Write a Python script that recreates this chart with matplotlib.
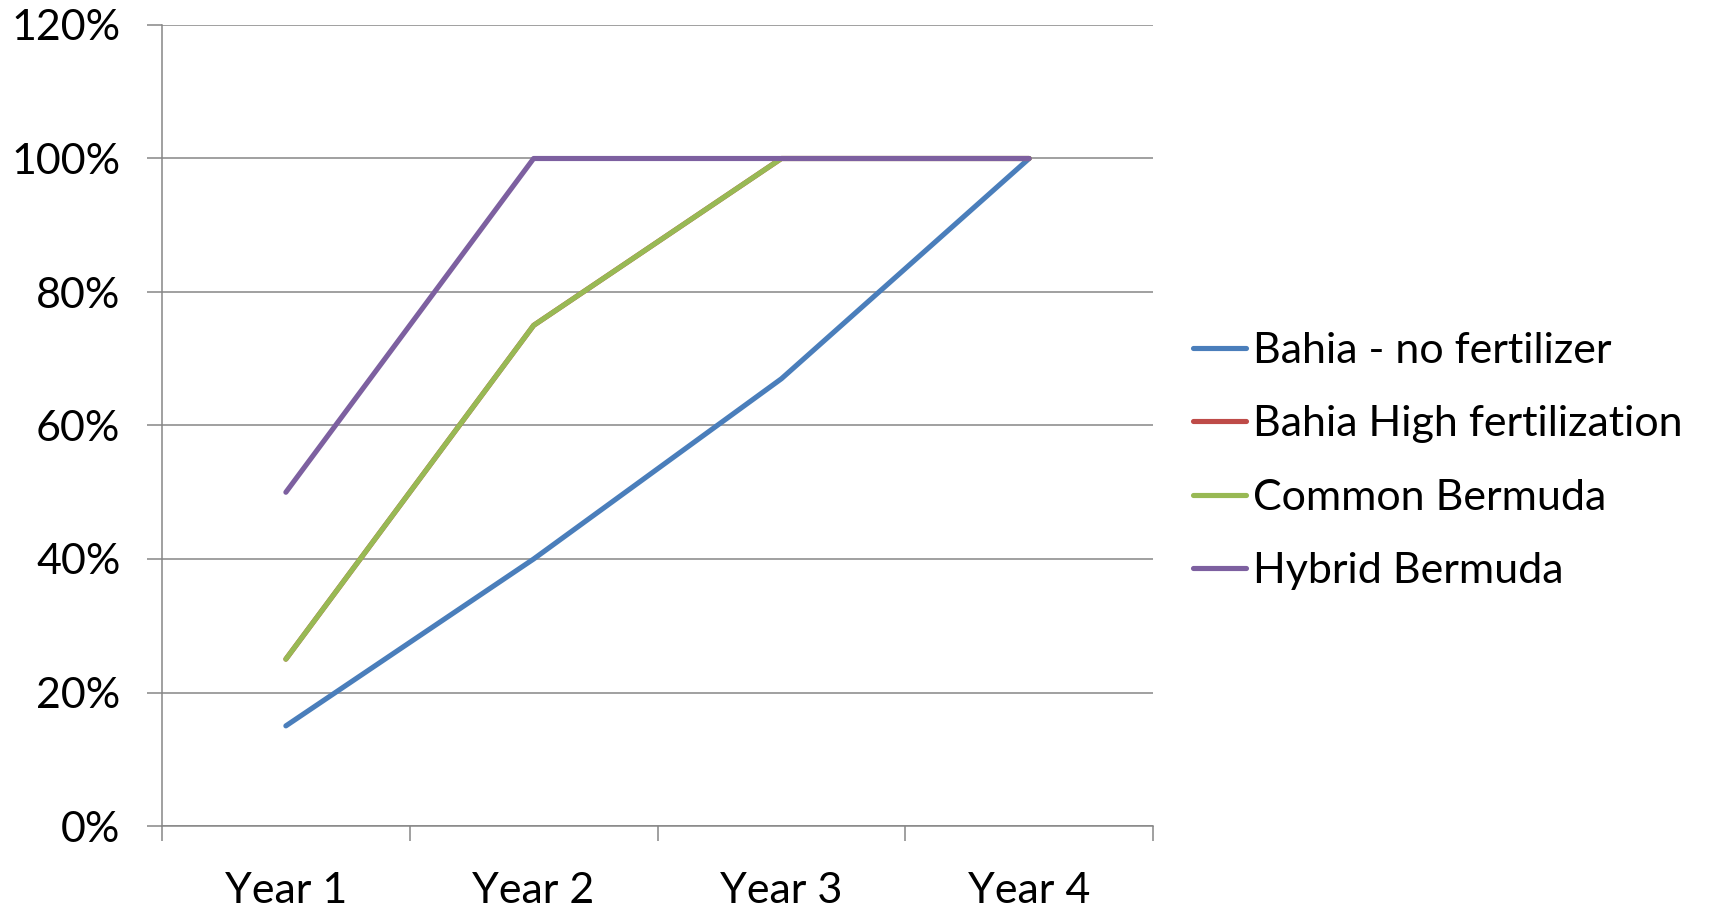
import matplotlib
matplotlib.use("Agg")
import matplotlib.pyplot as plt
from matplotlib.ticker import FixedLocator, PercentFormatter

plt.rcParams['font.family'] = ['Lato', 'DejaVu Sans']

years = ["Year 1", "Year 2", "Year 3", "Year 4"]
bahia_no_fert = [15, 40, 67, 100]
bahia_high_fert = [25, 75, 100, 100]
common_bermuda = [25, 75, 100, 100]
hybrid_bermuda = [50, 100, 100, 100]

series = [
    ("Bahia - no fertilizer", bahia_no_fert, "#4a7ebb"),
    ("Bahia High fertilization", bahia_high_fert, "#be4b48"),
    ("Common Bermuda", common_bermuda, "#98b954"),
    ("Hybrid Bermuda", hybrid_bermuda, "#7d60a0"),
]

fs = 31

fig = plt.figure(figsize=(17.13, 9.08), dpi=100)
ax = fig.add_axes([162 / 1713, 82 / 908, (1153 - 162) / 1713, (826 - 25) / 908])

x = list(range(len(years)))
for name, vals, col in series:
    ax.plot(x, vals, color=col, lw=3.7, solid_capstyle="round",
            solid_joinstyle="round", label=name)

ax.set_xlim(-0.5, len(years) - 0.5)
ax.set_ylim(0, 120)
ax.set_yticks(range(0, 121, 20))
ax.yaxis.set_major_formatter(PercentFormatter(decimals=0))
ax.grid(axis="y", color="#868686", lw=1.1)
ax.set_axisbelow(True)

# category labels in the middle, tick marks between the categories
ax.set_xticks(x)
ax.set_xticklabels(years)
ax.xaxis.set_minor_locator(FixedLocator([i - 0.5 for i in range(len(years) + 1)]))
ax.tick_params(axis="x", which="major", length=0, pad=33, labelsize=fs)
ax.tick_params(axis="x", which="minor", length=11, width=1.1, color="#868686")
ax.tick_params(axis="y", length=11, width=1.1, color="#868686", pad=19, labelsize=fs)

for s in ["top", "right"]:
    ax.spines[s].set_visible(False)
for s in ["left", "bottom"]:
    ax.spines[s].set_color("#868686")
    ax.spines[s].set_linewidth(1.1)

ax.legend(loc="center left", bbox_to_anchor=(1176 / 1713, 1 - 461 / 908),
          bbox_transform=fig.transFigure, frameon=False, fontsize=fs,
          handlelength=1.23, handletextpad=0.15, labelspacing=0.82, borderaxespad=0)

fig.savefig("out.png", dpi=100, facecolor="white")
